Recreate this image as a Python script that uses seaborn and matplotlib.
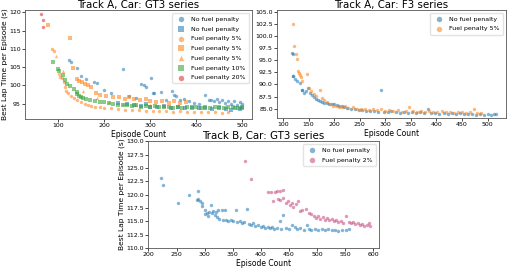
import numpy as np
import pandas as pd
import matplotlib
matplotlib.use("Agg")
import matplotlib.pyplot as plt
import seaborn as sns

# ── Track A, GT3 series: points ────────────────────────────
a_gt3_none_c_x = [124, 128, 140, 150, 160, 178, 184, 200, 215, 241, 255, 270, 281, 286, 290, 301,
                  306, 309, 324, 335, 347, 351, 357, 365, 373, 385, 395, 405, 419, 427, 432, 438,
                  445, 450, 455, 462, 468, 475, 482, 488, 495, 500]
a_gt3_none_c_y = [106.9, 106.3, 104.7, 102.5, 101.8, 100.8, 100.6, 98.8, 97.9, 104.5, 97.0, 96.6,
                  100.5, 100.0, 99.5, 102.1, 98.0, 97.9, 98.2, 96.0, 98.4, 97.5, 97.0, 96.0, 96.4,
                  95.6, 95.3, 95.0, 97.5, 96.1, 96.0, 95.7, 96.2, 95.5, 96.0, 95.3, 95.8, 95.0,
                  95.6, 94.7, 95.4, 94.8]
a_gt3_none_s_x = [230, 250, 265, 280, 290, 300, 315, 330, 345, 360, 375, 390, 405, 420, 435, 450,
                  465, 475, 485, 495, 500]
a_gt3_none_s_y = [95.2, 94.8, 94.5, 94.3, 94.9, 94.2, 94.0, 94.4, 93.9, 94.1, 93.8, 94.0, 93.7,
                  93.9, 93.5, 93.8, 93.6, 93.3, 93.9, 93.5, 93.7]
a_gt3_f5_c_x = [87, 90, 102, 105, 108, 112, 115, 118, 122, 128, 135, 142, 150, 158, 165, 172, 180,
                190, 200, 215, 230, 245, 260, 275, 290, 305, 320, 335, 350, 365, 380, 395, 410,
                425, 440, 455, 468]
a_gt3_f5_c_y = [110.0, 109.3, 103.1, 102.4, 101.9, 100.8, 99.5, 98.4, 97.9, 97.2, 96.5, 96.0,
                95.4, 95.0, 94.6, 94.3, 94.2, 94.0, 93.8, 93.8, 93.6, 93.4, 93.3, 93.2, 93.0,
                93.1, 92.9, 93.0, 92.8, 92.9, 92.7, 92.8, 92.6, 92.7, 92.6, 92.5, 92.6]
a_gt3_f5_s_x = [79, 125, 132, 140, 146, 152, 158, 165, 172, 182, 190, 205, 220, 232, 245, 255, 265,
                278, 290, 300, 312, 325, 340, 352, 365, 378]
a_gt3_f5_s_y = [116.6, 113.1, 104.9, 101.8, 101.2, 101.0, 100.5, 100.0, 99.5, 98.0, 97.5, 97.0,
                96.7, 96.9, 96.4, 96.8, 96.2, 95.9, 96.3, 95.8, 95.5, 95.7, 95.3, 95.6, 95.2, 95.4]
a_gt3_f5_t_x = [95, 110, 155, 185, 210, 240, 270, 300, 330]
a_gt3_f5_t_y = [108.0, 104.0, 98.5, 96.5, 95.5, 95.0, 94.6, 94.5, 94.4]
a_gt3_f10_x = [88, 100, 102, 110, 115, 120, 125, 135, 140, 142, 145, 150, 155, 160, 170, 180, 190,
               200, 210, 220, 230, 240, 250, 260, 270, 280, 290, 300, 310, 320, 330, 340, 350,
               360, 370, 380, 390, 400, 410, 420, 430, 440, 450, 460, 470, 480, 490, 500]
a_gt3_f10_y = [106.5, 104.5, 104.0, 102.8, 101.5, 100.5, 99.8, 99.0, 98.2, 97.6, 97.2, 96.9, 96.6,
               96.3, 96.0, 95.7, 95.5, 95.4, 95.2, 94.9, 94.7, 94.6, 94.5, 94.4, 94.6, 94.2,
               94.3, 94.1, 94.3, 94.0, 94.2, 94.0, 93.9, 94.1, 93.9, 94.0, 93.8, 94.0, 93.9,
               94.1, 93.8, 94.0, 94.2, 93.9, 94.1, 94.0, 93.8, 94.0]
a_gt3_f20_x = [63, 66.5, 68]
a_gt3_f20_y = [119.5, 118.0, 116.0]

# ── Track A, F3 series ─────────────────────────────────────
a_f3_none_x = [117.8, 120.4, 119, 120, 123.6, 128, 133, 137, 138, 141, 144, 148, 152, 156, 160, 165,
               168, 172, 176, 180, 185, 190, 195, 200, 205, 210, 215, 220, 225, 232, 240, 248,
               255, 262, 270, 278, 285, 291, 298, 305, 312, 320, 328, 336, 345, 352, 360, 368,
               376, 383, 390, 398, 406, 414, 422, 430, 438, 446, 454, 462, 470, 478, 486, 494,
               500, 506, 512, 517]
a_f3_none_y = [96.5, 96.2, 91.8, 91.7, 91.1, 90.8, 90.4, 88.8, 88.8, 88.3, 88.6, 89.3, 88.2, 87.8,
               87.5, 87.0, 86.8, 86.7, 86.4, 86.2, 86.1, 86.0, 85.9, 86.0, 85.8, 85.6, 85.5,
               85.3, 85.2, 85.0, 84.9, 84.8, 84.7, 84.6, 84.5, 84.6, 84.4, 88.8, 84.4, 84.3,
               84.5, 84.3, 84.2, 84.4, 84.2, 84.3, 84.1, 84.3, 84.2, 85.0, 84.1, 84.2, 84.0,
               84.2, 84.0, 84.1, 83.9, 84.1, 84.0, 83.9, 84.0, 83.8, 84.0, 83.8, 83.9, 83.8,
               83.9, 83.9]
a_f3_f5_x = [118.5, 121, 125.5, 126.7, 128.7, 131.8, 133, 135, 138, 147.8, 151, 155, 160, 165, 172,
             176, 180, 186, 192, 198, 204, 210, 216, 222, 228, 236, 244, 252, 260, 268, 276, 284,
             292, 300, 308, 316, 324, 332, 340, 346, 354, 362, 370, 378, 386, 394, 402, 410,
             418, 426, 434, 442, 450, 458, 466, 474, 480, 488]
a_f3_f5_y = [102.4, 97.9, 96.2, 95.3, 92.8, 92.4, 92.0, 91.5, 90.7, 92.1, 89.3, 88.6, 88.0, 87.6,
             88.9, 87.2, 86.8, 86.4, 86.0, 85.6, 85.5, 85.4, 85.3, 85.5, 85.1, 85.3, 85.0, 84.9,
             85.0, 84.8, 84.9, 84.7, 84.9, 84.6, 84.8, 84.5, 84.7, 84.4, 84.6, 85.4, 84.5,
             84.4, 84.6, 84.4, 84.5, 84.3, 84.4, 84.5, 84.3, 84.4, 84.2, 84.4, 84.3, 84.2,
             84.4, 84.9, 84.2, 84.1]

# ── Track B, GT3 series ────────────────────────────────────
b_gt3_none_x = [222.7, 226.3, 251.8, 271.4, 285.6, 288.5, 289, 291.5, 294.5, 296, 300.4, 300.4, 303.4,
                306.3, 308, 310.5, 313, 315, 318, 320, 322, 324, 326, 330, 332, 336, 338, 342,
                346, 350, 355, 358, 362, 366, 370, 375.7, 378, 382, 386, 390, 394, 400, 404,
                408, 412, 416, 420, 424, 428, 434, 439.8, 436, 444, 450, 456, 460, 464, 470,
                476, 482, 486, 490, 496, 502, 508, 514, 520, 526, 532, 538, 545, 552, 556]
b_gt3_none_y = [123.1, 121.8, 118.4, 119.9, 119.0, 119.1, 120.7, 118.8, 118.5, 117.9, 117.2, 116.3,
                116.6, 116.0, 116.8, 118.0, 116.5, 117.0, 116.2, 116.8, 115.8, 117.2, 115.5,
                117.2, 115.3, 117.2, 115.2, 115.0, 115.3, 115.0, 117.2, 114.9, 115.0, 114.7,
                114.8, 117.4, 114.5, 114.3, 114.6, 114.1, 114.3, 114.0, 114.2, 113.8, 114.0,
                113.7, 113.9, 113.6, 113.8, 115.0, 116.2, 113.6, 113.7, 113.5, 114.3, 114.0,
                113.6, 113.8, 113.4, 114.4, 113.6, 113.3, 113.5, 113.4, 113.6, 113.3, 113.5,
                113.4, 113.3, 113.2, 113.4, 113.3, 113.5]
b_gt3_f2_x = [372, 383, 412, 418, 425, 429, 434, 438.6, 422, 430, 434, 440, 444, 448.7, 452, 454.6,
              457.6, 462, 466.5, 469.5, 474, 481, 485, 490, 494, 498, 502, 506, 510, 514, 518,
              522, 526, 530, 534, 538, 542, 546, 552, 556, 560, 564, 568, 572, 576, 580, 584,
              588, 592, 594]
b_gt3_f2_y = [126.3, 123.0, 120.5, 120.4, 120.5, 120.6, 120.7, 120.8, 118.8, 119.2, 118.9, 119.4,
              118.5, 118.8, 118.0, 118.5, 117.7, 118.2, 118.8, 117.0, 117.2, 117.4, 116.6,
              116.3, 116.0, 115.7, 116.0, 115.5, 115.8, 115.3, 115.6, 115.2, 115.4, 115.0,
              115.3, 114.9, 115.1, 114.7, 116.0, 114.8, 114.6, 114.8, 114.5, 114.7, 114.3,
              114.5, 114.2, 114.4, 114.6, 114.2]

plt.rcParams["font.family"] = ["DejaVu Sans"]
plt.rcParams["axes.linewidth"] = 0.6
plt.rcParams["axes.edgecolor"] = "#555555"
plt.rcParams["xtick.major.width"] = 0.5
plt.rcParams["ytick.major.width"] = 0.5
plt.rcParams["xtick.major.size"] = 2
plt.rcParams["ytick.major.size"] = 2

blue, orange, green, red, pink = "#1f77b4", "#ff7f0e", "#2ca02c", "#d62728", "#c4457f"
pt = dict(s=6, alpha=0.55, linewidth=0)

fig = plt.figure(figsize=(5.1, 2.72), dpi=100)
ax1 = fig.add_axes([0.049, 0.5625, 0.445, 0.400])
ax2 = fig.add_axes([0.543, 0.566, 0.449, 0.397])
ax3 = fig.add_axes([0.290, 0.088, 0.453, 0.393])

# ── Panel A: Track A, GT3 ──────────────────────────────────
series1 = [(a_gt3_none_c_x, a_gt3_none_c_y, blue, "o", "No fuel penalty"),
           (a_gt3_none_s_x, a_gt3_none_s_y, blue, "s", "No fuel penalty"),
           (a_gt3_f5_c_x, a_gt3_f5_c_y, orange, "o", "Fuel penalty 5%"),
           (a_gt3_f5_s_x, a_gt3_f5_s_y, orange, "s", "Fuel penalty 5%"),
           (a_gt3_f5_t_x, a_gt3_f5_t_y, orange, "^", "Fuel penalty 5%"),
           (a_gt3_f10_x, a_gt3_f10_y, green, "s", "Fuel penalty 10%"),
           (a_gt3_f20_x, a_gt3_f20_y, red, "o", "Fuel penalty 20%")]
for xs, ys, c, m, lab in series1:
    sns.scatterplot(x=xs, y=ys, color=c, marker=m, label=lab, ax=ax1, **pt)
ax1.set_xlim(28, 521)
ax1.set_ylim(90.8, 120.6)
ax1.set_yticks([95, 100, 105, 110, 115, 120])
ax1.set_title("Track A, Car: GT3 series", fontsize=7.4, pad=1.5)
ax1.set_ylabel("Best Lap Time per Episode (s)", fontsize=5.4, labelpad=1)
ax1.set_xlabel("Episode Count", fontsize=5.5, labelpad=1)

# ── Panel B: Track A, F3 ───────────────────────────────────
sns.scatterplot(x=a_f3_none_x, y=a_f3_none_y, color=blue, label="No fuel penalty", ax=ax2, **pt)
sns.scatterplot(x=a_f3_f5_x, y=a_f3_f5_y, color=orange, label="Fuel penalty 5%", ax=ax2, **pt)
ax2.set_xlim(88, 536)
ax2.set_ylim(83.1, 105.3)
ax2.set_yticks(np.arange(85, 105.1, 2.5))
ax2.set_yticklabels([f"{v:.1f}" for v in np.arange(85, 105.1, 2.5)])
ax2.set_title("Track A, Car: F3 series", fontsize=7.4, pad=1.5)
ax2.set_xlabel("Episode Count", fontsize=5.5, labelpad=1)

# ── Panel C: Track B, GT3 ──────────────────────────────────
sns.scatterplot(x=b_gt3_none_x, y=b_gt3_none_y, color=blue, label="No fuel penalty", ax=ax3, **pt)
sns.scatterplot(x=b_gt3_f2_x, y=b_gt3_f2_y, color=pink, label="Fuel penalty 2%", ax=ax3, **pt)
ax3.set_xlim(199, 610)
ax3.set_ylim(110, 130)
ax3.set_yticks(np.arange(110, 130.1, 2.5))
ax3.set_yticklabels([f"{v:.1f}" for v in np.arange(110, 130.1, 2.5)])
ax3.set_title("Track B, Car: GT3 series", fontsize=7.4, pad=1.5)
ax3.set_ylabel("Best Lap Time per Episode (s)", fontsize=5.4, labelpad=1)
ax3.set_xlabel("Episode Count", fontsize=5.5, labelpad=1)

for ax in (ax1, ax2, ax3):
    ax.tick_params(labelsize=4.5, pad=1)
    ax.legend(loc="upper right", fontsize=4.5, markerscale=1.6, frameon=True,
              framealpha=0.8, edgecolor="#dddddd", borderpad=0.5, labelspacing=0.7,
              handletextpad=0.6)

fig.savefig("out.png", dpi=100)
